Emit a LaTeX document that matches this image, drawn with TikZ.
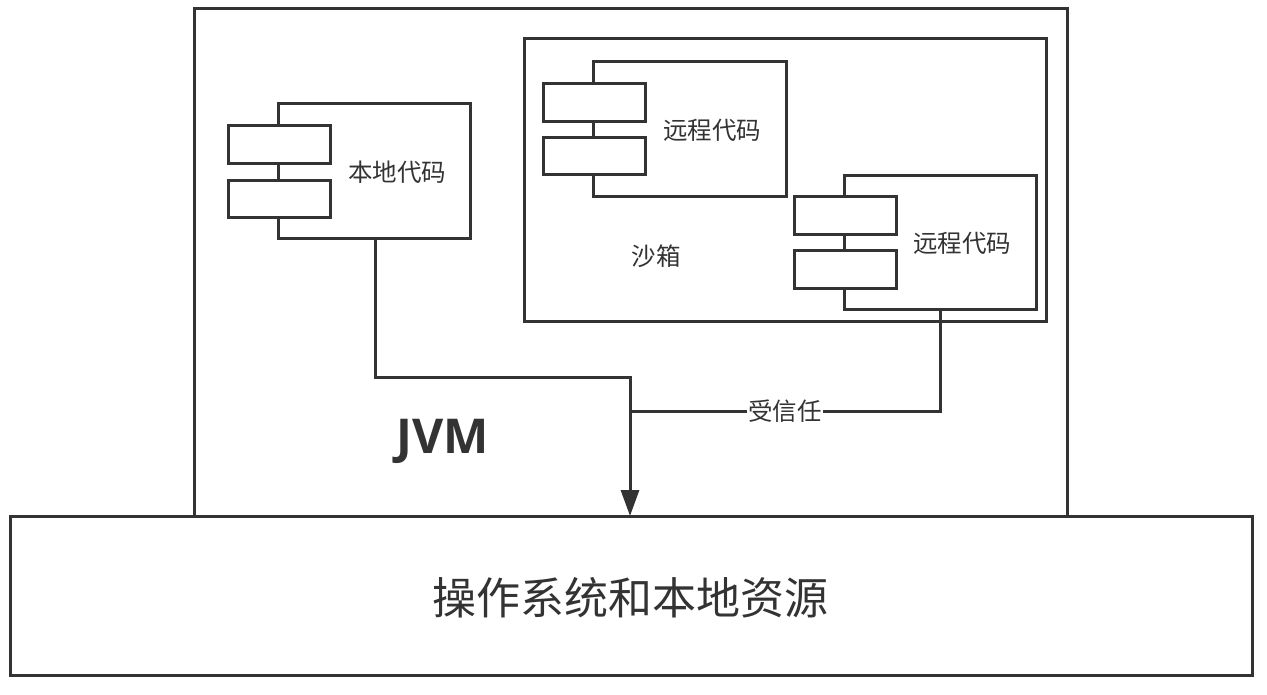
\documentclass[tikz,border=0pt]{standalone}
\usepackage{fontspec}
\setmainfont{Noto Sans CJK SC}
\newfontfamily\cjk{Noto Sans CJK SC}
\newfontfamily\jvmfont{Open Sans}
\usetikzlibrary{arrows.meta}
\definecolor{ln}{HTML}{333333}
\tikzset{
  box/.style={draw=ln, line width=3pt, fill=white},
  lbl/.style={text=ln, font=\cjk\fontsize{24.5}{28}\selectfont, inner sep=1pt},
  wire/.style={draw=ln, line width=3pt},
}
\begin{document}
\begin{tikzpicture}[x=1pt,y=-1pt]
\useasboundingbox (0,0) rectangle (1267,694);
\fill[white] (0,0) rectangle (1267,694);
% JVM box
\draw[box] (194,8) rectangle (1067,520);
% sandbox
\draw[box] (524,38) rectangle (1046,321);
% local code
\draw[box] (278,103) rectangle (470,238);
\draw[box] (228,125) rectangle (330,163);
\draw[box] (228,180) rectangle (330,217);
\node[lbl] (local) at (397,172) {本地代码};
% remote code 1
\draw[box] (593,61) rectangle (786,196);
\draw[box] (543,83) rectangle (645,121);
\draw[box] (543,137) rectangle (645,174);
\node[lbl] (r1) at (712,130) {远程代码};
% remote code 2
\draw[box] (844,175) rectangle (1036,309);
\draw[box] (794,196) rectangle (896,234);
\draw[box] (794,250) rectangle (896,288);
\node[lbl] (r2) at (962,243) {远程代码};
\node[lbl] (sb) at (656,256) {沙箱};
% coordinates
\coordinate (lo) at (375,238);
\coordinate (ro) at (940,309);
\coordinate (j) at (630,411);
\coordinate (tgt) at (630,516);
% connectors
\draw[wire] (lo) -- (375,377) -- (630,377) -- (j);
\draw[wire] (ro) -- (940,411) -- (j) node[midway, fill=white, lbl, inner sep=1pt] (trust) {受信任};
\draw[wire, -{Triangle[length=26pt,width=18pt]}] (j) -- (tgt);
\node[text=ln, font=\jvmfont\bfseries\fontsize{48}{52}\selectfont] (jvm) at (443,441) {JVM};
% OS box
\draw[box] (10,516) rectangle (1252,675);
\node[text=ln, font=\cjk\fontsize{44}{48}\selectfont] (os) at (630,598) {操作系统和本地资源};
\end{tikzpicture}
\end{document}
